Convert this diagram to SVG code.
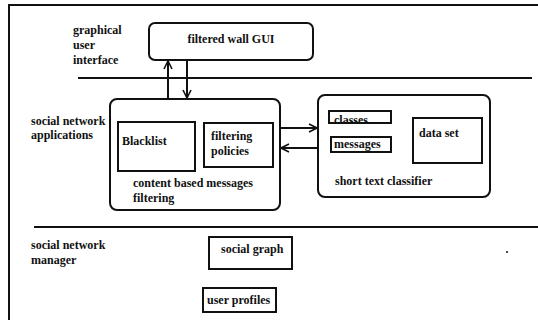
<svg xmlns="http://www.w3.org/2000/svg" width="538" height="320" viewBox="0 0 538 320">
<style>
text{font-family:"Liberation Serif","Times New Roman",serif;font-weight:bold;font-size:12px;fill:#111}
.b{fill:#fff;stroke:#111;stroke-width:2}
.l{stroke:#111;stroke-width:2;fill:none}
</style>
<defs>
<marker id="ah" viewBox="0 0 10 10" refX="9" refY="5" markerWidth="10" markerHeight="10" markerUnits="userSpaceOnUse" orient="auto">
<path d="M1,1 L9,5 L1,9" fill="none" stroke="#111" stroke-width="1.6"/>
</marker>
</defs>
<rect width="538" height="320" fill="#fff"/>
<g id="frame">
<path class="l" d="M9,320 V5 H538"/>
<line class="l" x1="78" y1="78" x2="532" y2="78"/>
<line class="l" x1="34" y1="227" x2="538" y2="227"/>
<circle cx="507" cy="252" r="1" fill="#111"/>
</g>
<g id="labels">
<text x="73" y="34">graphical</text>
<text x="73" y="49">user</text>
<text x="73" y="64">interface</text>
<text x="31" y="125">social network</text>
<text x="31" y="139">applications</text>
<text x="31" y="249">social network</text>
<text x="31" y="264">manager</text>
</g>
<g id="gui">
<rect class="b" x="149" y="23" width="164" height="37" rx="6"/>
<text x="231" y="43" text-anchor="middle">filtered wall GUI</text>
</g>
<g id="content-filtering">
<rect class="b" x="110" y="99" width="170" height="111" rx="7"/>
<text x="133" y="187">content based messages</text>
<text x="133" y="202">filtering</text>
</g>
<g id="blacklist">
<rect class="b" x="118" y="122" width="77" height="49"/>
<text x="122" y="145">Blacklist</text>
</g>
<g id="policies">
<rect class="b" x="204" y="123" width="69" height="44"/>
<text x="211" y="140">filtering</text>
<text x="211" y="155">policies</text>
</g>
<g id="classifier">
<rect class="b" x="318" y="95" width="172" height="102" rx="7"/>
<text x="335" y="185">short text classifier</text>
</g>
<g id="classes">
<rect class="b" x="329" y="111" width="62" height="12"/>
<text x="334" y="124">classes</text>
</g>
<g id="messages">
<rect class="b" x="331" y="137" width="60" height="15"/>
<text x="334" y="148">messages</text>
</g>
<g id="dataset">
<rect class="b" x="413" y="118" width="69" height="45"/>
<text x="419" y="137">data set</text>
</g>
<g id="social-graph">
<rect class="b" x="209" y="237" width="83" height="32"/>
<text x="221" y="253">social graph</text>
</g>
<g id="user-profiles">
<rect class="b" x="203" y="288" width="73" height="24"/>
<text x="207" y="304">user profiles</text>
</g>
<g id="connectors">
<line class="l" x1="168" y1="99" x2="168" y2="61" marker-end="url(#ah)"/>
<line class="l" x1="187" y1="60" x2="187" y2="98" marker-end="url(#ah)"/>
<line class="l" x1="280" y1="128" x2="317" y2="128" marker-end="url(#ah)"/>
<line class="l" x1="318" y1="148" x2="281" y2="148" marker-end="url(#ah)"/>
</g>
</svg>
